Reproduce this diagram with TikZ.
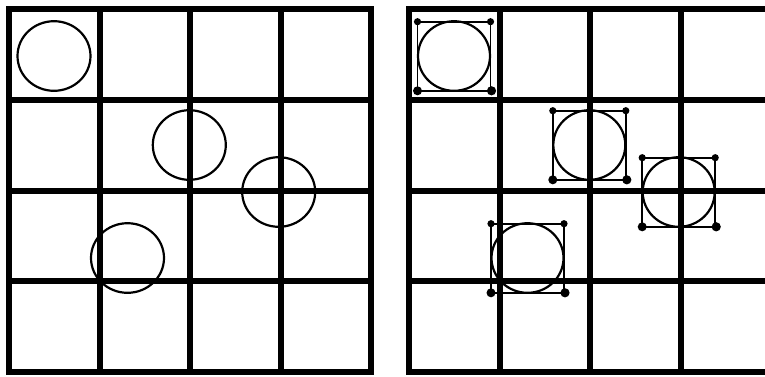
\documentclass[tikz,border=0pt]{standalone}
\begin{document}
\begin{tikzpicture}[x=1pt,y=-1pt,
  gridline/.style={line width=6pt},
  circ/.style={line width=2.2pt},
  bbox/.style={line width=1.8pt},
]
\useasboundingbox (0,0) rectangle (765,376);
\clip (0,0) rectangle (765,376);
% grids
\foreach \ox in {0,400} {
  \draw[gridline] (9+\ox,9) rectangle (371+\ox,372);
  \foreach \x in {99.5,190,280.5} \draw[gridline] (\x+\ox,9) -- (\x+\ox,372);
  \foreach \y in {99.75,190.5,281.25} \draw[gridline] (9+\ox,\y) -- (371+\ox,\y);
}
% circles, left
\foreach \cx/\cy/\n in {54/56/a,189.3/145/b,278.7/192/c,127.5/258/d} {
  \coordinate (L\n) at (\cx,\cy);
  \draw[circ] (L\n) ellipse [x radius=36.5, y radius=34.8];
}
% circles with boxes, right
\foreach \cx/\cy/\n in {454/56/a,589.3/145/b,678.7/192/c,527.5/258/d} {
  \coordinate (R\n) at (\cx,\cy);
  \draw[circ] (R\n) ellipse [x radius=36, y radius=34.8];
  \draw[bbox] ([shift={(-36.5,-34.3)}]R\n) rectangle ([shift={(36.5,34.8)}]R\n);
  \fill ([shift={(-36.5,-34.3)}]R\n) circle [radius=3.6];
  \fill ([shift={(36.5,-34.3)}]R\n) circle [radius=3.6];
  \fill ([shift={(-36.5,34.8)}]R\n) circle [radius=4.5];
  \fill ([shift={(37.5,34.8)}]R\n) circle [radius=4.6];
}
\end{tikzpicture}
\end{document}
